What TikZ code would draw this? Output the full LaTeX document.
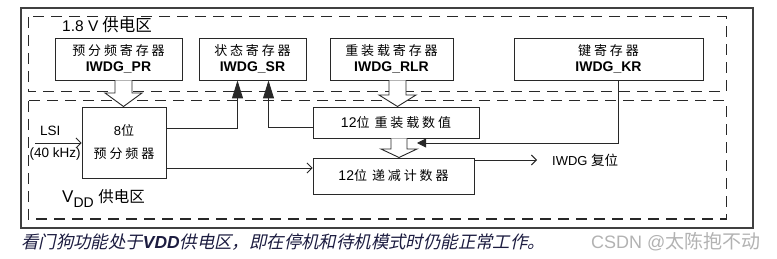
\documentclass[tikz,border=0pt]{standalone}
\usepackage{fontspec}
\setmainfont{Liberation Sans}
\newfontfamily\cjk{Noto Sans CJK SC}
\newfontfamily\cjksp[LetterSpace=22]{Noto Sans CJK SC}
\newfontfamily\cjkit[FakeSlant=0.22]{Noto Sans CJK SC}
\usetikzlibrary{arrows.meta}
\definecolor{capcol}{RGB}{28,28,64}
\definecolor{linecol}{RGB}{40,40,40}
\tikzset{
  regbox/.style={draw=linecol, line width=0.9pt, inner sep=0pt, align=center, font=\fontsize{13}{15.5}\selectfont},
  zone/.style={draw=linecol, line width=1pt, dash pattern=on 11pt off 7pt},
  lbl/.style={inner sep=0pt, anchor=west},
  conn/.style={draw=linecol, line width=0.9pt},
  openarr/.style={conn, -{Straight Barb[length=5pt,width=10pt,line width=0.9pt]}},
  filarr/.style={conn, -{Triangle[length=18pt,width=11pt]}},
  keyarr/.style={conn, -{Triangle[length=9pt,width=9pt]}},
  hollow/.style={draw=linecol, line width=0.9pt, fill=white}
}
\newcommand\hollowarrow[6]{%
  \filldraw[hollow] ({#1-#5},#2) -- ({#1-#5},#3) -- ({#1-#6},#3) -- (#1,#4) -- ({#1+#6},#3) -- ({#1+#5},#3) -- ({#1+#5},#2);}
\newcommand\bfl[1]{{\bfseries\fontsize{14}{16}\selectfont #1}}
\begin{document}
\begin{tikzpicture}[x=1pt,y=-1pt]
\useasboundingbox (0,0) rectangle (777,259);
% outer frame
\draw[draw=black!75, line width=1.2pt] (21,8) rectangle (753,228);
% zones
\draw[zone] (28,17) rectangle (726,92);
\draw[zone] (28,101) rectangle (726,219);
% zone labels
\node[lbl] (z18) at (62,25) {\fontsize{15.5}{17}\selectfont 1.8 V\hspace{4pt}{\cjk\fontsize{16.5}{18}\selectfont 供电区}};
\node[lbl] (zdd) at (62,199) {\fontsize{17}{19}\selectfont V\raisebox{-5pt}{\fontsize{14}{16}\selectfont DD} {\cjk\fontsize{15.5}{18}\selectfont 供电区}};
% registers
\node[regbox, minimum width=127pt, minimum height=42pt] (pr) at (118.5,59) {{\cjksp 预分频寄存器}\\\bfl{IWDG\_PR}};
\node[regbox, minimum width=107pt, minimum height=42pt] (sr) at (252.5,59) {{\cjksp 状态寄存器}\\\bfl{IWDG\_SR}};
\node[regbox, minimum width=123pt, minimum height=42pt] (rlr) at (391.5,59) {{\cjksp 重装载寄存器}\\\bfl{IWDG\_RLR}};
\node[regbox, minimum width=189pt, minimum height=42pt] (kr) at (608.5,59) {{\cjksp 键寄存器}\\\bfl{IWDG\_KR}};
% functional blocks
\node[regbox, minimum width=84pt, minimum height=71pt, font=\fontsize{13}{23}\selectfont] (pre) at (124,142.5) {8{\cjk 位}\\{\cjksp 预分频器}};
\node[regbox, minimum width=166pt, minimum height=31pt] (rv) at (396,122.5) {{\fontsize{14}{16}\selectfont 12}{\cjk 位}\hspace{5pt}{\cjksp 重装载数值}};
\node[regbox, minimum width=161pt, minimum height=36pt] (cnt) at (393.5,176) {{\fontsize{14}{16}\selectfont 12}{\cjk 位}\hspace{5pt}{\cjksp 递减计数器}};
% LSI input
\coordinate (lsi0) at (35,143);
\node[lbl] (lsi) at (40,131) {\fontsize{13.5}{15}\selectfont LSI};
\node[lbl] (khz) at (29.5,154) {\fontsize{13.5}{15}\selectfont (40 kHz)};
\draw[openarr] (lsi0) -- (pre.west |- lsi0);
% reset output
\node[lbl, inner xsep=0pt] (rst) at (552,160) {\fontsize{13}{15}\selectfont IWDG {\cjk\fontsize{13.5}{15}\selectfont 复位}};
\coordinate (rstin) at (537,160);
\draw[openarr] (cnt.east |- rstin) -- (rstin);
% prescaler -> counter
\draw[openarr] (pre.east |- 0,168) -- (cnt.west |- 0,168);
% status flags
\draw[filarr] (pre.east |- 0,128) -| (sr.south -| 237.5,0);
\draw[filarr] (rv.west |- 0,127) -| (sr.south -| 268.5,0);
% key register line
\coordinate (kx) at (618,0);
\coordinate (kin) at (417,143);
\draw[keyarr] (kr.south -| kx) |- (kin);
% hollow data arrows
\hollowarrow{123.5}{80.5}{93}{106.5}{8.5}{18.5}
\hollowarrow{397.5}{80.5}{95}{106.5}{8.5}{18.5}
\hollowarrow{399}{138.5}{149}{157.5}{8}{18}
% caption
\node[lbl, text=capcol] (cap) at (21,242) {\fontsize{17.4}{19}\selectfont{\cjkit 看门狗功能处于}{\bfseries\itshape VDD}{\cjkit 供电区，即在停机和待机模式时仍能正常工作。}};
% watermark
\node[lbl, text=black!30] (wm) at (591,242) {\fontsize{18}{20}\selectfont CSDN @{\cjk\fontsize{19}{20}\selectfont 太陈抱不动}};
\end{tikzpicture}
\end{document}
